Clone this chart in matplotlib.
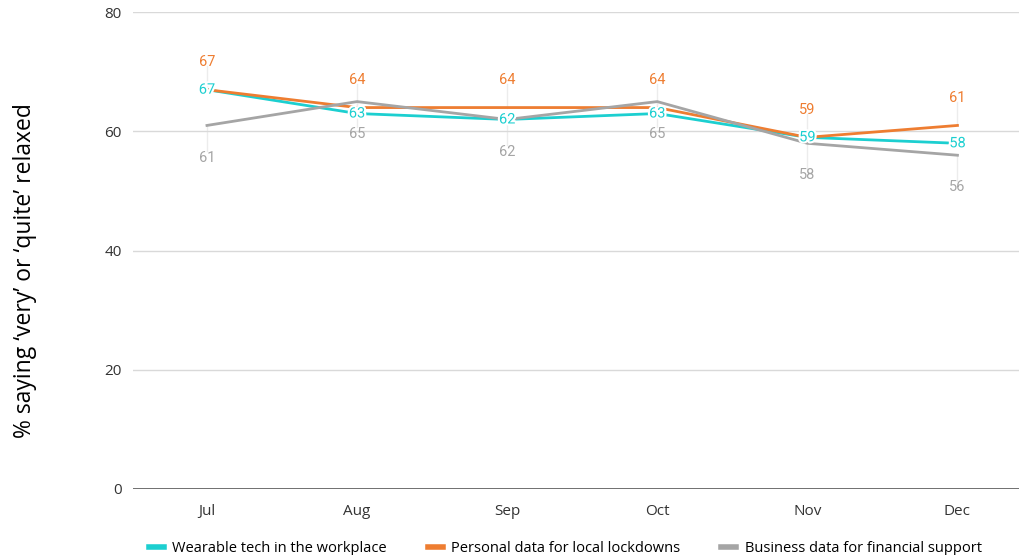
import matplotlib.pyplot as plt
import matplotlib.patheffects as pe

months = ['Jul', 'Aug', 'Sep', 'Oct', 'Nov', 'Dec']
wearable = [67, 63, 62, 63, 59, 58]
personal = [67, 64, 64, 64, 59, 61]
business = [61, 65, 62, 65, 58, 56]

c_teal = '#1ccfd0'
c_orange = '#ee7d31'
c_gray = '#a5a5a5'

fig = plt.figure(figsize=(10.19, 5.55), dpi=100)
ax = fig.add_axes([0.1305, 0.119, 0.8695, 0.859])

x = range(len(months))
ax.plot(x, wearable, color=c_teal, lw=2, label='Wearable tech in the workplace', zorder=3)
ax.plot(x, personal, color=c_orange, lw=2, label='Personal data for local lockdowns', zorder=3)
ax.plot(x, business, color=c_gray, lw=2, label='Business data for financial support', zorder=3)

ax.set_xlim(-0.493, 5.41)
ax.set_ylim(0, 80)
ax.set_yticks([0, 20, 40, 60, 80])
ax.set_xticks(list(x))
ax.set_xticklabels(months)

# data labels with faint leader lines
stroke = [pe.withStroke(linewidth=3, foreground='white')]
lab_font = dict(family='Roboto', fontsize=10.5, ha='center', va='center')
for i in x:
    ax.plot([i, i], [personal[i], personal[i] + 3.9], color='#ececec', lw=1, zorder=1)
    ax.text(i, personal[i] + 4.6, str(personal[i]), color=c_orange, zorder=5, **lab_font)
    ax.plot([i, i], [business[i], business[i] - 4.3], color='#ececec', lw=1, zorder=1)
    ax.text(i, business[i] - 5.4, str(business[i]), color=c_gray, zorder=5, **lab_font)
    ax.text(i, wearable[i], str(wearable[i]), color=c_teal, zorder=6,
            path_effects=stroke, **lab_font)

ax.grid(axis='y', color='#d9d9d9', lw=1, zorder=0)
ax.axhline(0, color='#595959', lw=1.2, zorder=2)
for s in ax.spines.values():
    s.set_visible(False)
ax.tick_params(axis='y', length=0, pad=8, labelsize=11, labelcolor='#333333')
ax.tick_params(axis='x', length=0, pad=11, labelsize=11, labelcolor='#333333')
for t in ax.get_xticklabels() + ax.get_yticklabels():
    t.set_family('Open Sans')

ax.set_ylabel('% saying \u2018very\u2019 or \u2018quite\u2019 relaxed', fontsize=16.5,
              family='Open Sans', color='black')
ax.yaxis.set_label_coords(-0.108, 0.458)

leg = ax.legend(loc='lower center', bbox_to_anchor=(0.488, -0.168), ncol=3, frameon=False,
                handlelength=1.0, handletextpad=0.6, columnspacing=2.8,
                prop={'family': 'Open Sans', 'size': 10.5})
for h in leg.get_lines():
    h.set_linewidth(4)

fig.savefig('out.png', dpi=100)
